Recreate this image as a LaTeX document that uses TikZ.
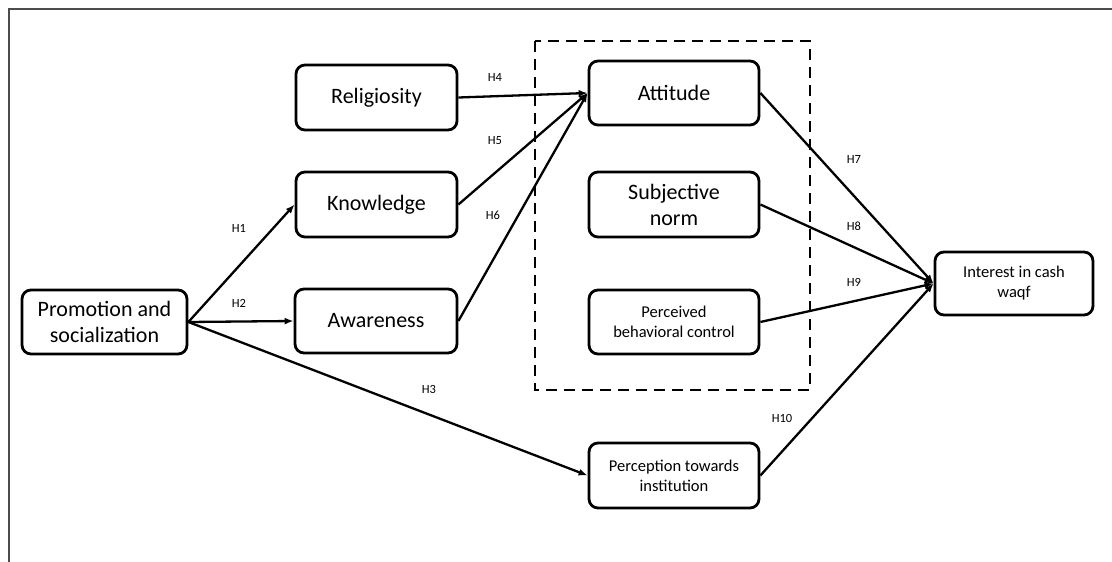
\documentclass[tikz,border=0pt]{standalone}
\usepackage{fontspec}
\setmainfont{Carlito}
\usetikzlibrary{arrows.meta}
\begin{document}
\begin{tikzpicture}[x=1pt,y=-1pt,
  box/.style={draw,line width=2.8pt,rounded corners=9pt,align=center,inner sep=2pt},
  bigtext/.style={font=\fontsize{22}{26}\selectfont},
  smalltext/.style={font=\fontsize{16.5}{20}\selectfont},
  hyp/.style={font=\fontsize{12.5}{14}\selectfont,inner sep=0pt},
  arr/.style={line width=2.3pt,-{Latex[length=9pt,width=7pt]}},
  group/.style={draw,line width=2.8pt,dash pattern=on 11pt off 7pt}]
\useasboundingbox (0,0) rectangle (1112,562);

% outer frame
\draw[line width=1.6pt,black!70] (9,562) -- (9,9) -- (1112,9);

% constructs
\node[box,bigtext,minimum width=165pt,minimum height=64pt] (prom) at (104.5,322) {Promotion and\\socialization};
\node[box,bigtext,minimum width=161pt,minimum height=65pt] (rel) at (376.5,97.5) {Religiosity};
\node[box,bigtext,minimum width=161pt,minimum height=65pt] (know) at (376.5,204.5) {Knowledge};
\node[box,bigtext,minimum width=162pt,minimum height=64pt] (aware) at (376,321) {Awareness};
\node[box,bigtext,minimum width=170pt,minimum height=64pt] (att) at (674,93) {Attitude};
\node[box,bigtext,minimum width=170pt,minimum height=65pt] (subj) at (674,204.5) {Subjective\\norm};
\node[box,smalltext,minimum width=170pt,minimum height=64pt] (pbc) at (674,322) {Perceived\\behavioral control};
\node[box,smalltext,minimum width=170pt,minimum height=65pt] (perc) at (674,475.5) {Perception towards\\institution};
\node[box,smalltext,minimum width=158pt,minimum height=63pt] (int) at (1014,283.5) {Interest in cash\\waqf};

% theory of planned behaviour group
\draw[group] (535,41) rectangle (810,390);

% paths
\draw[arr] (prom.east) -- (know.west);
\draw[arr] (prom.east) -- (aware.west);
\draw[arr] (prom.east) -- (perc.west);
\draw[arr] (rel.east) -- (att.west);
\draw[arr] (know.east) -- (att.west);
\draw[arr] (aware.east) -- (att.west);
\draw[arr] (att.east) -- (int.west);
\draw[arr] (subj.east) -- (int.west);
\draw[arr] (pbc.east) -- (int.west);
\draw[arr] (perc.east) -- (int.west);

% hypothesis labels
\node[hyp] (h1) at (239,228) {H1};
\node[hyp] (h2) at (239,303) {H2};
\node[hyp] (h3) at (429,389) {H3};
\node[hyp] (h4) at (495,77) {H4};
\node[hyp] (h5) at (495,141) {H5};
\node[hyp] (h6) at (493,215) {H6};
\node[hyp] (h7) at (854,159) {H7};
\node[hyp] (h8) at (854,226) {H8};
\node[hyp] (h9) at (854,282) {H9};
\node[hyp] (h10) at (782,418) {H10};
\end{tikzpicture}
\end{document}
